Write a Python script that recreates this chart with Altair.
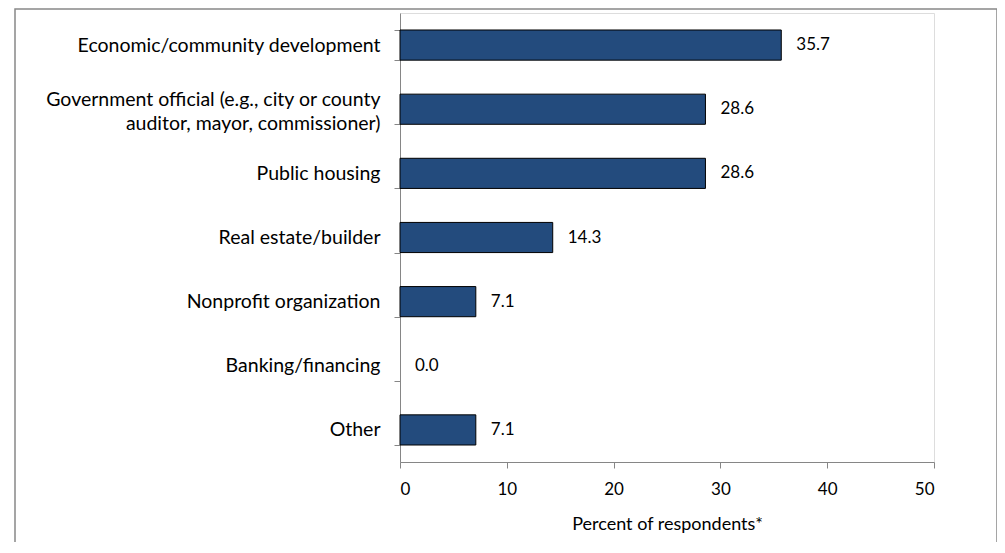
import altair as alt
import pandas as pd

categories = [
    "Economic/community development",
    "Government official (e.g., city or county|auditor, mayor, commissioner)",
    "Public housing",
    "Real estate/builder",
    "Nonprofit organization",
    "Banking/financing",
    "Other",
]
values = [35.7, 28.6, 28.6, 14.3, 7.1, 0.0, 7.1]
x_ticks = [0, 10, 20, 30, 40, 50]

df = pd.DataFrame({"cat": categories, "val": values})

FONT = "Lato"
AXIS_COLOR = "#868686"

y_enc = alt.Y(
    "cat:N",
    sort=categories,
    scale=alt.Scale(paddingInner=0.53, paddingOuter=0.265),
    axis=alt.Axis(
        title=None,
        labelExpr="split(datum.label, '|')",
        labelFont=FONT,
        labelFontSize=19.5,
        labelColor="#000000",
        labelPadding=14,
        labelLineHeight=24,
        labelBaseline="middle",
        labelOffset={
            "condition": {"test": "indexof(datum.label, '|') >= 0", "value": -10},
            "value": 0,
        },
        tickBand="extent",
        tickSize=6,
        tickColor=AXIS_COLOR,
        domainColor=AXIS_COLOR,
        labelLimit=400,
    ),
)
x_enc = alt.X(
    "val:Q",
    scale=alt.Scale(domain=[0, 50]),
    axis=alt.Axis(
        values=x_ticks,
        title="Percent of respondents*",
        titleFont=FONT,
        titleFontSize=18,
        titleFontWeight="normal",
        titleColor="#000000",
        titlePadding=18,
        labelFont=FONT,
        labelFontSize=17,
        labelColor="#000000",
        labelPadding=13,
        tickSize=6,
        tickColor=AXIS_COLOR,
        domainColor=AXIS_COLOR,
        grid=False,
    ),
)

base = alt.Chart(df)

border = base.mark_rect(fill=None, stroke="#888888", strokeWidth=1.5).encode(
    x=alt.value(-385), x2=alt.value(597), y=alt.value(-4), y2=alt.value(600)
).transform_filter("datum.cat == 'Other'")

bars = base.mark_bar(color="#234B7D", stroke="#000000", strokeWidth=1).encode(
    x=x_enc, y=y_enc
).transform_filter("datum.val > 0")

labels = base.mark_text(
    align="left", baseline="middle", dx=15, font=FONT, fontSize=17, color="#000000"
).encode(
    x="val:Q",
    y=alt.Y("cat:N", sort=categories),
    text=alt.Text("val:Q", format=".1f"),
)

chart = (
    alt.layer(border, bars, labels)
    .properties(
        width=534,
        height=449,
        autosize=alt.AutoSizeParams(type="none"),
        padding={"left": 392, "top": 5, "right": 63, "bottom": 80},
    )
    .configure_view(stroke=None)
    .configure(background="white")
)

chart.save("out.html", embed_options={"renderer": "svg", "actions": False})
